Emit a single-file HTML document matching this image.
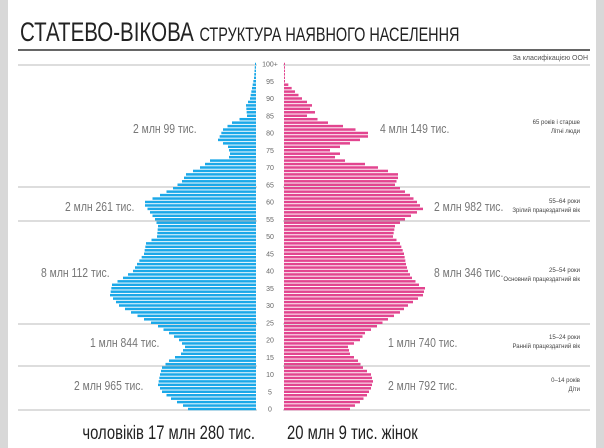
<!DOCTYPE html>
<html><head><meta charset="utf-8"><style>
body{margin:0;background:#fff;}
svg{display:block}
</style></head><body>
<svg id="s" width="604" height="448" xmlns="http://www.w3.org/2000/svg" font-family="Liberation Sans, sans-serif">
<rect x="0" y="0" width="604" height="448" fill="#fff"/>
<rect x="0" y="0" width="8" height="448" fill="#d8d8d8"/>
<rect x="596" y="0" width="8" height="448" fill="#d8d8d8"/>
<g transform="translate(20,41) scale(0.76,1)">
<text x="0" y="0" font-size="27" fill="#222">СТАТЕВО-ВІКОВА <tspan font-size="19">СТРУКТУРА НАЯВНОГО НАСЕЛЕННЯ</tspan></text>
</g>
<rect x="18" y="49" width="572" height="2" fill="#666"/>
<text x="588" y="60" font-size="7" fill="#555" text-anchor="end">За класифікацією ООН</text>
<g stroke="#bbb" stroke-width="1">
<line x1="18" y1="65" x2="590" y2="65"/>
<line x1="18" y1="187" x2="590" y2="187"/>
<line x1="18" y1="221" x2="590" y2="221"/>
<line x1="18" y1="324" x2="590" y2="324"/>
<line x1="18" y1="366" x2="590" y2="366"/>
<line x1="18" y1="410" x2="590" y2="410"/>
</g>
<rect x="257" y="60" width="26" height="352" fill="#fff"/>
<g id="bars"></g>
<g id="ax" font-size="7" fill="#666" text-anchor="middle"></g>
<g font-size="13" fill="#777">
<g transform="translate(133,133) scale(0.8,1)"><text>2 млн 99 тис.</text></g>
<g transform="translate(65,211) scale(0.8,1)"><text>2 млн 261 тис.</text></g>
<g transform="translate(41,277) scale(0.8,1)"><text>8 млн 112 тис.</text></g>
<g transform="translate(90,347) scale(0.8,1)"><text>1 млн 844 тис.</text></g>
<g transform="translate(74,390) scale(0.8,1)"><text>2 млн 965 тис.</text></g>
<g transform="translate(380,133) scale(0.8,1)"><text>4 млн 149 тис.</text></g>
<g transform="translate(434,211) scale(0.8,1)"><text>2 млн 982 тис.</text></g>
<g transform="translate(434,277) scale(0.8,1)"><text>8 млн 346 тис.</text></g>
<g transform="translate(388,347) scale(0.8,1)"><text>1 млн 740 тис.</text></g>
<g transform="translate(388,390) scale(0.8,1)"><text>2 млн 792 тис.</text></g>
</g>
<g font-size="6" fill="#444" text-anchor="end">
<text x="580" y="124">65 років і старше</text><text x="580" y="133">Літні люди</text>
<text x="580" y="203">55–64 роки</text><text x="580" y="212">Зрілий працездатний вік</text>
<text x="580" y="272">25–54 роки</text><text x="580" y="281">Основний працездатний вік</text>
<text x="580" y="339">15–24 роки</text><text x="580" y="348">Ранній працездатний вік</text>
<text x="580" y="382">0–14 років</text><text x="580" y="391">Діти</text>
</g>
<g font-size="19" fill="#222">
<g transform="translate(255,439) scale(0.78,1)"><text text-anchor="end">чоловіків 17 млн 280 тис.</text></g>
<g transform="translate(287,439) scale(0.78,1)"><text>20 млн 9 тис. жінок</text></g>
</g>
</svg>
<script>
var M={0:188,1:183,3:171,5:162,7:158,10:160,12:162,14:169,16:181,18:185,20:179,22:169,24:158,26:144,28:131,30:119,33:110,36:112,38:123,40:133,42:137,45:144,48:146,50:157,53:158,55:155,57:150,59:145,60:145,62:160,64:173,66:182,68:186,70:200,72:210,73:229,74:230,76:228,78:218,81:223,83:232,85:247,88:246,90:250,93:252,96:254,100:255};
var F={0:350,2:360,4:367,6:371,8:373,10:371,12:363,14:358,16:350,18:348,20:360,22:365,24:377,26:388,28:400,30:408,33:423,35:425,36:419,38:412,40:408,42:406,45:404,48:400,50:393,53:395,55:405,58:423,60:417,62:410,64:400,65:395,67:398,68:398,70:378,71:365,72:345,73:335,74:340,75:330,76:340,78:360,79:368,80:368,82:343,83:328,85:307,86:315,87:310,88:312,90:302,92:295,95:285,97:285,100:285};
function interp(o,a){var k=Object.keys(o).map(Number).sort(function(x,y){return x-y});for(var i=0;i<k.length-1;i++){if(a>=k[i]&&a<=k[i+1]){var t=(a-k[i])/(k[i+1]-k[i]);return o[k[i]]+(o[k[i+1]]-o[k[i]])*t;}}return o[k[k.length-1]];}
var ns="http://www.w3.org/2000/svg",g=document.getElementById('bars'),ax=document.getElementById('ax');
for(var a=0;a<=100;a++){var y=409-a*3.45-1.25;
var m=interp(M,a),f=interp(F,a);
var r=document.createElementNS(ns,'rect');r.setAttribute('x',m);r.setAttribute('y',y);r.setAttribute('width',256-m);r.setAttribute('height',2.5);r.setAttribute('fill','#1ba8e8');g.appendChild(r);
r=document.createElementNS(ns,'rect');r.setAttribute('x',284);r.setAttribute('y',y);r.setAttribute('width',f-284);r.setAttribute('height',2.5);r.setAttribute('fill','#e2458f');g.appendChild(r);
if(a%5==0){var t=document.createElementNS(ns,'text');t.setAttribute('x',270);t.setAttribute('y',409-a*3.45+2.5);t.textContent=a==100?'100+':a;ax.appendChild(t);}}
</script>
</body></html>
